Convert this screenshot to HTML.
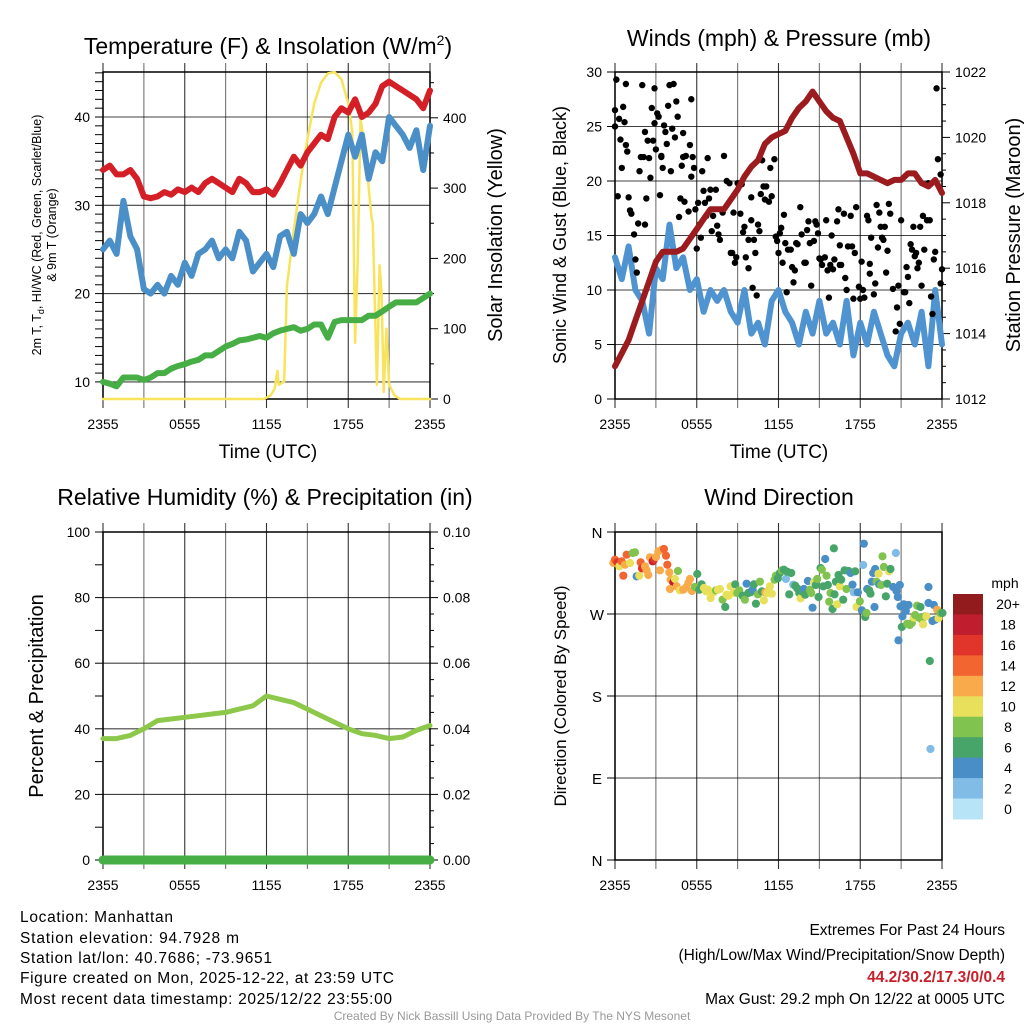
<!DOCTYPE html>
<html><head><meta charset="utf-8"><style>
html,body{margin:0;padding:0;background:#fff;}
svg{display:block;font-family:"Liberation Sans",sans-serif;}
</style></head><body>
<svg id="root" width="1024" height="1024" viewBox="0 0 1024 1024" xmlns="http://www.w3.org/2000/svg">
<rect width="1024" height="1024" fill="#fff"/>
<g id="layer"></g>
<g font-size="23" fill="#000" text-anchor="middle">
<text x="268" y="54">Temperature (F) &amp; Insolation (W/m<tspan dy="-9" font-size="14">2</tspan><tspan dy="9">)</tspan></text>
<text x="779" y="46">Winds (mph) &amp; Pressure (mb)</text>
<text x="265" y="505">Relative Humidity (%) &amp; Precipitation (in)</text>
<text x="779" y="505">Wind Direction</text>
</g>
<g font-size="19" text-anchor="middle">
<text x="268" y="458">Time (UTC)</text>
<text x="779" y="458">Time (UTC)</text>
<text transform="translate(502,235) rotate(-90)" font-size="20">Solar Insolation (Yellow)</text>
<text transform="translate(566,235) rotate(-90)" font-size="18">Sonic Wind &amp; Gust (Blue, Black)</text>
<text transform="translate(1020,235) rotate(-90)" font-size="20">Station Pressure (Maroon)</text>
<text transform="translate(43,696) rotate(-90)" font-size="20">Percent &amp; Precipitation</text>
<text transform="translate(566,696) rotate(-90)" font-size="17">Direction (Colored By Speed)</text>
<text transform="translate(41,235) rotate(-90)" font-size="12.5">2m T, T<tspan font-size="9" dy="3">d</tspan><tspan dy="-3">, HI/WC (Red, Green, Scarlet/Blue)</tspan></text>
<text transform="translate(56,235) rotate(-90)" font-size="12.5">&amp; 9m T (Orange)</text>
</g>
<g font-size="15.5">
<text x="20" y="922" textLength="153">Location: Manhattan</text>
<text x="20" y="943" textLength="219">Station elevation: 94.7928 m</text>
<text x="20" y="963" textLength="252">Station lat/lon: 40.7686; -73.9651</text>
<text x="20" y="983" textLength="374">Figure created on Mon, 2025-12-22, at 23:59 UTC</text>
<text x="20" y="1004" textLength="372">Most recent data timestamp: 2025/12/22 23:55:00</text>
<text x="1005" y="935" text-anchor="end">Extremes For Past 24 Hours</text>
<text x="1005" y="960" text-anchor="end">(High/Low/Max Wind/Precipitation/Snow Depth)</text>
<text x="1005" y="982" text-anchor="end" fill="#c8202a" font-weight="bold">44.2/30.2/17.3/0/0.4</text>
<text x="1005" y="1004" text-anchor="end">Max Gust: 29.2 mph On 12/22 at 0005 UTC</text>
<text x="512" y="1020" text-anchor="middle" font-size="12" fill="#999">Created By Nick Bassill Using Data Provided By The NYS Mesonet</text>
</g>
</svg>
<script>
const xTickLabels=["2355","0555","1155","1755","2355"];
const redT=[34,34.5,33.5,33.5,34,33,31,30.8,31,31.5,31.2,31.8,31.5,32,31.5,32.5,33,32.5,32,31.5,33,32.5,31.5,31.5,31.8,31.2,32.5,34,35.5,34.5,36,37,38,37.5,40,41,40.5,42,40,40.5,41.5,43.5,44,43.5,43,42.5,42,41,43];
const blueT=[25,26,24.5,30.5,26.5,25,20.5,20,21,20,22,21,23.5,22,24.5,25,26,24,25,24,27,26,22.5,23.5,24.5,23,26.5,27,24.5,29,28,29,31,29,32,35,38,35.5,38,33,36,35,40,39,38,36.5,38.5,34,39];
const greenT=[10,9.8,9.5,10.5,10.5,10.5,10.2,10.5,11,11,11.5,11.8,12,12.3,12.5,13,13,13.5,14,14.3,14.7,14.8,15,15.2,15,15.5,15.8,16,16.2,15.8,16,16.5,16.5,15,16.8,17,17,17,17,17.5,17.5,18,18.5,19,19,19,19,19.5,20];
const solarH=[0,11.8,12.3,12.6,12.8,12.9,13.3,13.5,14,14.5,15,15.5,16,16.5,17,17.5,18,18.3,18.5,18.7,18.9,19.3,19.7,19.8,20.1,20.3,20.45,20.6,20.8,21,21.4,21.8,24];
const solarV=[0,0,5,15,40,20,25,160,240,310,370,420,450,463,465,455,420,380,80,200,400,340,260,250,20,190,150,10,100,20,5,0,0];
const pres=[1013,1013.4,1013.8,1014.4,1015,1015.6,1016.2,1016.5,1016.5,1016.5,1016.6,1016.9,1017.2,1017.5,1017.8,1017.8,1017.8,1018.1,1018.4,1018.8,1019.1,1019.3,1019.8,1020,1020.1,1020.2,1020.6,1020.9,1021.1,1021.4,1021.1,1020.8,1020.6,1020.5,1020,1019.5,1018.9,1018.9,1018.8,1018.7,1018.6,1018.7,1018.7,1018.9,1018.9,1018.6,1018.5,1018.7,1018.3];
const wind=[13,11,14,10,9,6,12,11,16,12,13,10,11,8,10,9,10,8,7,10,6,7,5,9,10,8,7,5,8,6,9,6,7,5,9,4,7,5,8,6,4,3,6,7,5,8,3,10,5];
const gustH=[0,0.1,0,0.2,0.3,0.4,0.5,0.6,0.7,0.8,0.8,0.9,1,1.1,1.2,1.4,1.5,1.6,1.7,1.8,1.9,2,2.1,2.2,2.2,2.3,2.4,2.5,2.6,2.7,2.8,2.9,2.9,3,3.1,3.2,3.3,3.4,3.4,3.5,3.6,3.7,3.8,3.9,4,4.1,4.2,4.3,4.4,4.5,4.6,4.7,4.8,4.9,5,5,5.1,5.2,5.4,5.5,5.6,5.6,5.7,5.8,5.9,6,6.1,6.2,6.3,6.4,6.5,6.6,6.7,6.8,6.9,7,7.1,7.2,7.4,7.5,7.6,7.7,7.9,8,8.2,8.4,8.5,8.6,8.7,8.8,8.9,9,9.2,9.3,9.4,9.5,9.6,9.8,9.8,10,10,10.1,10.2,10.3,10.4,10.5,10.6,10.7,10.8,10.9,11,11.1,11.3,11.4,11.5,11.7,11.8,11.9,12,12.1,12.2,12.3,12.4,12.5,12.6,12.7,12.9,13,13.1,13.2,13.3,13.4,13.6,13.7,13.9,14,14.1,14.2,14.3,14.4,14.6,14.7,14.8,14.9,15,15.1,15.2,15.4,15.5,15.6,15.7,15.8,15.9,16,16.1,16.3,16.4,16.5,16.5,16.6,16.8,16.9,17,17.1,17.3,17.4,17.5,17.6,17.7,17.9,18,18.1,18.2,18.3,18.5,18.6,18.7,18.7,18.8,19,19.1,19.2,19.3,19.4,19.5,19.6,19.7,19.8,19.9,20,20.1,20.2,20.4,20.6,20.7,20.8,20.9,21,21.2,21.3,21.4,21.5,21.6,21.7,21.8,21.9,22,22.1,22.2,22.3,22.4,22.5,22.6,22.7,22.9,23,23.1,23.2,23.3,23.4,23.5,23.6,23.7,23.9,24,23.9];
const gustV=[26.5,29.3,25,18.6,25.7,23.8,21.2,26.8,25.4,28.9,23.3,22.7,18.5,17.3,17,15.1,12.8,11.6,16.1,20.9,22.2,28.8,22.2,16,24.5,18.4,23.7,22.1,20.3,26.7,23.7,28.5,25.3,22.9,26.2,25.9,18.7,22.3,22.2,21.2,25.1,24.5,23.4,26.9,28.8,20.9,24.8,28.9,24,27.3,25.9,16.7,18.4,21.4,22.2,24.4,18.1,22.3,17.2,23.3,20.4,27.5,22.2,21.2,17.4,13.8,18,16,14.8,20.9,19.1,18,16.8,22.1,18.4,19.2,15.4,16.8,19.2,15.9,15.1,14.6,17.1,22.3,20,19.8,13.4,13.4,17.1,12.5,13,19.8,17,19.7,15.3,15.8,13,12,14.6,18.5,16.4,10.2,14.6,13.4,9.5,16,15.4,18.8,21.9,19.5,18.3,19.5,18.1,21.2,18.6,22,14.9,14.5,13.4,15.2,15.7,12.5,16.9,14.3,9.8,13.7,13.7,12.1,10.7,11.8,14.3,14.2,17.6,15.1,12.5,12.5,15.5,16.3,14.3,10.4,14.5,16.3,16,15.2,12.9,12.8,12.3,13,16.4,11.8,9.3,12.3,15,11.9,12.8,16.3,17.4,14.1,12.3,12.3,17,11.1,10,14,16.8,14,9.2,13.4,17.6,10.3,9.2,12.6,10,9.3,16.8,16.4,11.5,12.4,14.8,9.6,10.6,17.8,13.9,17.1,15.8,14.8,14.6,15.8,11.6,13.6,17.9,17,10.1,6.2,8.4,10.4,6.9,16.4,9.8,9.8,12.1,11.2,8.8,14.2,13.7,15.8,13.1,13.4,12,12.5,15.8,10.4,16.8,13.7,16.4,19.8,16.4,9.4,7.8,12.8,13.5,28.5,22,20.6,11.9,10.6];
const rhH=[37,37,38,40,42.5,43,43.5,44,44.5,45,46,47,50,49,48,46,44,42,40,38.5,38,37,37.5,39.5,41];
const precip=[0,0,0,0,0,0,0,0,0,0,0,0,0,0,0,0,0,0,0,0,0,0,0,0,0];
const dirZX=[100,105,112,118,125,130,135,140,150,158,165,170,178,182,186,195,200,205,210,218,222,228,235,240,245,252,258,262,268,272,280,285,270,290,294,300,310,318,325,330,336,345,352,358,365,372,378,384,392,400,408,414,420,428,436,440,446,452,460,466,472,478,488,495,500,505,512,518,522,528,534,540,546,552,556,562,570,576,584,588,594,600,606,612,618,622,628,634,640,646,652,658,662,668,672,676,684,690,694,698,702,708,712,716,722,726,730,736,740,744,748,752,758,762,764,768,772,776,780,784,790,794,800,806,812,818,822,826,830,834,840,846,850,852,856,860,862,868,872,876,880,884,886,890,896,898,904,908,912,918,922,928,932,940,948,950,954,956,960,962,966,968,972,978,982,986,990,996,1002,1006,1012,1018,1022,1026,1030,1036,1040,1046,1046,1050,1052,1058,1062,1066,1072,1076,1082,1088];
const dirH=dirZX.map(v=>(v-105)/40.9);
const dirZY=[130,120,128,140,125,168,135,105,130,100,98,170,168,128,146,140,152,166,113,125,120,112,95,152,90,88,108,135,158,180,188,178,208,200,154,212,210,204,190,178,214,202,163,210,194,205,215,210,235,218,212,210,208,240,262,225,228,200,220,194,220,212,228,240,192,220,218,210,194,252,224,186,215,242,218,220,200,222,180,168,176,160,152,150,178,156,224,160,195,198,206,220,236,216,208,225,184,210,220,264,188,196,178,232,145,150,200,118,168,196,246,220,268,86,224,186,254,166,200,180,240,152,208,154,160,195,218,155,262,218,245,272,136,72,292,280,208,212,222,186,160,262,148,186,162,194,196,110,142,230,192,155,148,202,100,214,232,362,196,260,322,290,254,274,312,256,316,310,294,286,258,294,262,300,314,290,290,202,250,424,688,304,256,300,270,296,280,280];
const dirDeg=dirZY.map(v=>270+(283-v)/246*90);
const dirSpd=[12,14,16,10,14,14,12,14,10,9,8,4,10,14,16,12,13,13,12,18,16,13,12,13,13,15,15,15,13,12,18,10,13,13,8,11,12,13,12,13,12,9,7,7,7,11,10,10,10,10,8,11,11,8,7,10,10,11,10,6,8,9,6,8,4,6,7,4,6,7,8,8,6,11,13,10,11,10,8,8,6,7,8,7,3,6,6,6,3,6,7,6,10,7,4,6,4,8,8,4,10,7,8,6,7,8,6,4,8,6,8,8,6,6,6,6,10,7,10,7,6,6,8,6,4,4,3,6,10,4,8,4,2,4,6,8,4,6,6,4,4,4,4,8,10,4,8,8,8,6,6,10,6,4,2,4,4,4,4,4,6,4,4,4,8,4,8,8,10,8,8,8,6,8,10,8,10,4,4,6,2,4,4,4,13,10,8,6];
const cbLabels=["20+","18","16","14","12","10","8","6","4","2","0"];
const cbColors=["#921b1e","#be1e2d","#e1352b","#f26430","#f9aa4a","#e8e05b","#80c34f","#48a56a","#4a8ec7","#80bce6","#b8e4f8"];

const NS="http://www.w3.org/2000/svg";
const layer=document.getElementById('layer');
function mk(tag,attrs,parent){const e=document.createElementNS(NS,tag);for(const k in attrs)e.setAttribute(k,attrs[k]);(parent||layer).appendChild(e);return e;}

function panel(L,R,T,B,hLines,leftTicks,rightTicks,prefix){
  const xs=h=>L+h*(R-L)/24;
  let el;
  for(const [y] of hLines){
    el=mk('line',{x1:L,x2:R,y1:y,y2:y,stroke:'#000','stroke-width':1.1,'stroke-opacity':0.75});
    
    
  }
  for(let i=0;i<=8;i++){
    const x=xs(i*3);
    el=mk('line',{x1:x,x2:x,y1:T-9,y2:B+9,stroke:'#000','stroke-width':1.1,'stroke-opacity':(i%2?0.55:0.8)});
    
    
  }
  for(let i=0;i<5;i++){
    el=mk('text',{x:xs(i*6),y:B+30,'font-size':14,'text-anchor':'middle'});
    el.textContent=xTickLabels[i];
    
    
  }
  for(const [y,t] of leftTicks){
    el=mk('line',{x1:L-8,x2:L,y1:y,y2:y,stroke:'#000','stroke-width':1});
    
    
    if(t!==''){el=mk('text',{x:L-13,y:y+5,'font-size':14,'text-anchor':'end'});el.textContent=t;
    
    }
  }
  for(const [y,t] of rightTicks){
    el=mk('line',{x1:R,x2:R+(t===''?4:8),y1:y,y2:y,stroke:'#000','stroke-width':1});
    
    
    if(t!==''){el=mk('text',{x:R+13,y:y+5,'font-size':14,'text-anchor':'start'});el.textContent=t;
    
    }
  }
  el=mk('rect',{x:L,y:T,width:R-L,height:B-T,fill:'none',stroke:'#000','stroke-width':1.5});
  
  
  return xs;
}
function polyline(xArr,yArr,color,w,name,op){
  const pts=xArr.map((x,i)=>x.toFixed(1)+','+yArr[i].toFixed(1)).join(' ');
  const el=mk('polyline',{points:pts,fill:'none',stroke:color,'stroke-width':w,'stroke-linejoin':'round','stroke-linecap':'round','stroke-opacity':op||1});
  
  
}
const hh=n=>Array.from({length:n},(_,i)=>i*24/(n-1));

// Panel 1
{const L=103,R=430,T=72,B=399;
 const yT=t=>117+(40-t)*8.83, yS=s=>399-s*0.703;
 const lt=[],rt=[];
 for(let t=10;t<=45;t++) lt.push([yT(t),t%10===0?String(t):'']);
 for(let s=0;s<=460;s+=50) rt.push([yS(s),s%100===0?String(s):'']);
 const xs=panel(L,R,T,B,[10,20,30,40].map(t=>[yT(t)]),lt.filter(a=>a[0]>=T&&a[0]<=B),rt,'temp');
 const h=hh(49);
 polyline(solarH.map(xs),solarV.map(yS),'#f8e45c',2.5,'solar-insolation-line');
 polyline(h.map(xs),greenT.map(yT),'#46ae45',6,'dewpoint-line');
 polyline(h.map(xs),redT.map(yT),'#d41f27',6,'temperature-line');
 polyline(h.map(xs),blueT.map(yT),'#4a8fc8',6,'windchill-line');
}
// Panel 2
{const L=615,R=942,T=72,B=399;
 const yW=v=>399-v*10.9, yP=p=>399-(p-1012)*32.7;
 const lt=[],rt=[];
 for(let v=0;v<=30;v+=5) lt.push([yW(v),String(v)]);
 for(let p=1012;p<=1022;p+=0.5) rt.push([yP(p),(p%2===0)?String(p):'']);
 const xs=panel(L,R,T,B,lt.map(a=>[a[0]]),lt,rt,'wind');
 const h=hh(49);
 polyline(h.map(xs),wind.map(yW),'#4f94d0',6,'sonic-wind-line');
 for(let i=0;i<gustH.length;i++){
   const el=mk('circle',{cx:xs(gustH[i]),cy:yW(gustV[i]),r:3.2,fill:'#000'});
   
   
 }
 polyline(h.map(xs),pres.map(yP),'#9b1b1e',6,'pressure-line');
}
// Panel 3
{const L=103,R=430,T=532,B=860;
 const yR=v=>860-v*3.28, yPr=p=>860-p*3280;
 const lt=[],rt=[];
 for(let v=0;v<=100;v+=10) lt.push([yR(v),v%20===0?String(v):'']);
 for(let p=0;p<=0.1001;p+=0.005) rt.push([yPr(p),(Math.round(p*1000)%20===0)?p.toFixed(2):'']);
 const xs=panel(L,R,T,B,[20,40,60,80,100].map(v=>[yR(v)]),lt,rt,'humidity');
 polyline(hh(25).map(xs),rhH.map(yR),'#8dc84a',5,'relative-humidity-line');
 polyline(hh(25).map(xs),precip.map(yPr),'#46ae45',9,'precipitation-line');
}
// Panel 4
{const L=615,R=942,T=532,B=860;
 const yD=d=>860-d/360*328;
 const names=['N','E','S','W','N'];
 const lt=[];
 for(let i=0;i<5;i++) lt.push([yD(i*90),'']);
 const xs=panel(L,R,T,B,lt.map(a=>[a[0]]),lt,[],'direction');
 for(let i=0;i<5;i++){
   const el=mk('text',{x:597,y:yD(i*90)+6,'font-size':15,'text-anchor':'middle'});
   el.textContent=names[i];
   
   
 }
 const bin=s=>Math.max(0,Math.min(10,10-Math.floor(s/2)));
 for(let i=0;i<dirH.length;i++){
   const el=mk('circle',{cx:xs(dirH[i]),cy:yD(dirDeg[i]),r:4.1,fill:cbColors[bin(dirSpd[i])]});
   
   
 }
 let el=mk('text',{x:1005,y:588,'font-size':14,'text-anchor':'middle'});
 el.textContent='mph';
 
 
 const bh=(819-594)/11;
 for(let i=0;i<11;i++){
   el=mk('rect',{x:953,y:594+i*bh,width:30,height:bh+0.5,fill:cbColors[i]});
   
   
   el=mk('text',{x:1008,y:594+i*bh+bh/2+5,'font-size':14,'text-anchor':'middle'});
   el.textContent=cbLabels[i];
   
   
 }
}
</script>
</body></html>
